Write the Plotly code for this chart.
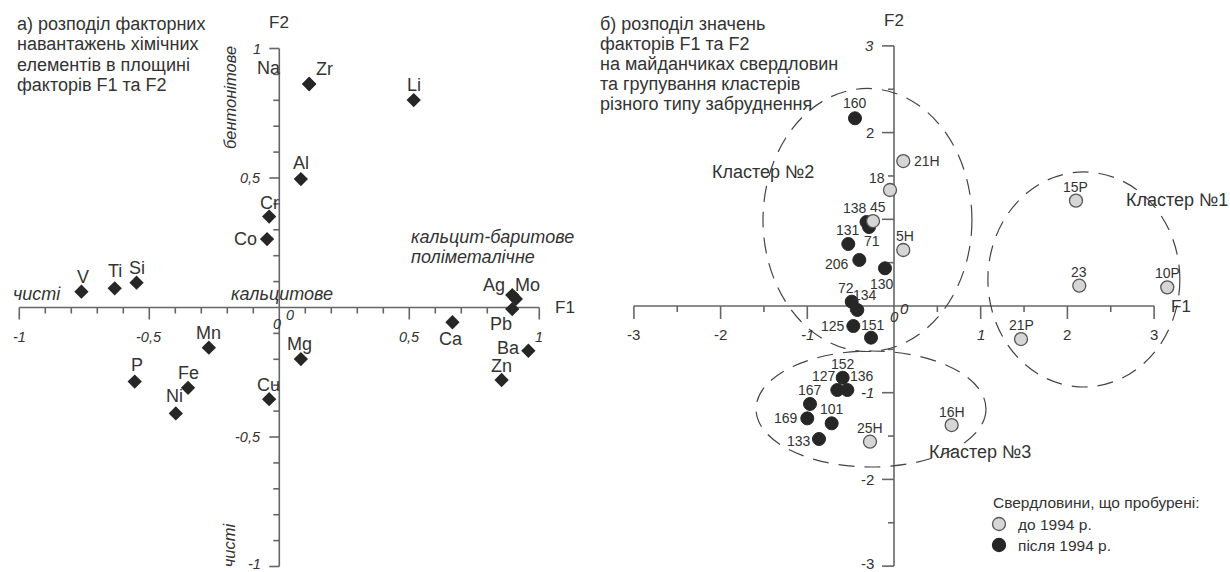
import plotly.graph_objects as go

# ---------------- DATA ----------------
# Panel a: factor loadings of chemical elements
elem_names = ["V", "Ti", "Si", "Mn", "P", "Fe", "Ni", "Cu", "Cr", "Co", "Mg", "Al",
              "Na", "Zr", "Li", "Ca", "Ag", "Mo", "Pb", "Ba", "Zn"]
elem_f1 = [-0.761, -0.633, -0.549, -0.271, -0.556, -0.351, -0.398, -0.039, -0.039, -0.047,
           0.083, 0.083, 0.115, 0.115, 0.517, 0.666, 0.896, 0.910, 0.896, 0.958, 0.855]
elem_f2 = [0.061, 0.074, 0.096, -0.155, -0.286, -0.310, -0.409, -0.354, 0.351, 0.264,
           -0.199, 0.496, 0.863, 0.863, 0.801, -0.057, 0.048, 0.033, -0.006, -0.167, -0.280]

# Panel b: factor scores of wells
before_names = ["21H", "18", "45", "5H", "15P", "23", "10P", "21P", "16H", "25H"]
before_f1 = [0.107, -0.046, -0.242, 0.107, 2.099, 2.137, 3.152, 1.465, 0.665, -0.277]
before_f2 = [1.672, 1.338, 0.980, 0.646, 1.215, 0.234, 0.215, -0.381, -1.373, -1.565]

after_names = ["160", "138", "71", "131", "206", "130", "72", "134", "125", "151",
               "152", "127", "136", "167", "169", "101", "133"]
after_f1 = [-0.450, -0.317, -0.288, -0.527, -0.400, -0.104, -0.488, -0.423, -0.469, -0.265,
            -0.592, -0.654, -0.538, -0.969, -1.000, -0.719, -0.865]
after_f2 = [2.165, 0.969, 0.911, 0.715, 0.531, 0.435, 0.050, -0.046, -0.231, -0.365,
            -0.827, -0.969, -0.969, -1.130, -1.296, -1.353, -1.534]

# Clusters (centre F1, centre F2, half-width, half-height)
cluster_names = ["Кластер №1", "Кластер №2", "Кластер №3"]
cluster_cx = [2.19, -0.306, -0.265]
cluster_cy = [0.306, 0.992, -1.188]
cluster_rx = [1.107, 1.205, 1.326]
cluster_ry = [1.24, 1.517, 0.669]

# Tick labels
a_xticks = [-1, -0.5, 0.5, 1]
a_xticklabels = ["-1", "-0,5", "0,5", "1"]
a_yticks = [1, 0.5, -0.5, -1]
a_yticklabels = ["1", "0,5", "-0,5", "-1"]
b_xticks = [-3, -2, -1, 1, 2, 3]
b_xticklabels = ["-3", "-2", "<i>-1</i>", "<i>1</i>", "2", "3"]
b_yticks = [3, 2, -1, -2, -3]
b_yticklabels = ["<i>3</i>", "2", "<i>-1</i>", "-2", "-3"]

title_a = ["а) розподіл факторних", "навантажень хімічних", "елементів в площині",
           "факторів F1 та F2"]
title_b = ["б) розподіл значень", "факторів F1 та F2", "на майданчиках свердловин",
           "та групування кластерів", "різного типу забруднення"]
legend_title = "Свердловини, що пробурені:"
legend_labels = ["до 1994 р.", "після 1994 р."]

# ---------------- STYLE / LAYOUT ----------------
W, H = 1230, 572
FONT = "Arial, Liberation Sans, sans-serif"
TXT = "#333333"
AX = "#666666"

# pixel scales (px per unit)
AXS, AYS = 260.0, 259.0
BXS, BYS = 86.7, 86.7
a_xr = [-1.0742, -1.0742 + 615 / AXS]
a_yr = [-(572 - 307.5) / AYS, 307.5 / AYS]
b_xr = [-(894 - 615) / BXS, (1230 - 894) / BXS]
b_yr = [-(572 - 306) / BYS, 306 / BYS]

# label offsets (px) : (dx, dy) dy positive = up
elem_off = {"V": (2, 15), "Ti": (0, 17), "Si": (0, 15), "Mn": (0, 15), "P": (2, 17),
            "Fe": (0, 15), "Ni": (-1, 17), "Cu": (-1, 14), "Cr": (0, 14), "Co": (-22, 0),
            "Mg": (-1, 15), "Al": (0, 16), "Na": (-40, 16), "Zr": (15, 15), "Li": (0, 15),
            "Ca": (-1, -17), "Ag": (-18, 10), "Mo": (12, 14), "Pb": (-11, -15),
            "Ba": (-20, 3), "Zn": (0, 14)}
well_off = {"160": (0, 15), "21H": (22, 0), "18": (-13, 12), "138": (-12, 14), "45": (5, 14),
            "131": (0, 14), "71": (3, -14), "5H": (2, 14), "206": (-22, -4), "130": (-3, -16),
            "72": (-6, 14), "134": (8, 15), "125": (-20, 0), "151": (2, 13), "152": (0, 14),
            "127": (-13, 14), "136": (15, 14), "167": (0, 14), "169": (-21, 0), "101": (0, 14),
            "133": (-20, -2), "25H": (0, 14), "16H": (0, 13), "15P": (0, 14), "23": (0, 14),
            "10P": (0, 14), "21P": (0, 14)}

fig = go.Figure()

# Panel a points
fig.add_trace(go.Scatter(x=elem_f1, y=elem_f2, mode="markers", xaxis="x", yaxis="y",
                         marker=dict(symbol="diamond", size=11, color="#262626"),
                         hoverinfo="text", text=elem_names))
# Panel b points
fig.add_trace(go.Scatter(x=after_f1, y=after_f2, mode="markers", xaxis="x2", yaxis="y2",
                         marker=dict(symbol="circle", size=13, color="#262626",
                                     line=dict(color="#262626", width=1)),
                         hoverinfo="text", text=after_names))
fig.add_trace(go.Scatter(x=before_f1, y=before_f2, mode="markers", xaxis="x2", yaxis="y2",
                         marker=dict(symbol="circle", size=13, color="#d6d6d6",
                                     line=dict(color="#555555", width=1.3)),
                         hoverinfo="text", text=before_names))

shapes = []
ann = []


def line(xref, yref, x0, y0, x1, y1, w=1.6, color=AX):
    shapes.append(dict(type="line", xref=xref, yref=yref, x0=x0, y0=y0, x1=x1, y1=y1,
                       line=dict(color=color, width=w), layer="below"))


def text(xref, yref, x, y, s, size=14, dx=0, dy=0, xa="center", ya="middle", angle=0,
         italic=False, color=TXT):
    if italic:
        s = "<i>" + s + "</i>"
    ann.append(dict(xref=xref, yref=yref, x=x, y=y, text=s, showarrow=False,
                    xshift=dx, yshift=dy, xanchor=xa, yanchor=ya, textangle=angle,
                    font=dict(family=FONT, size=size, color=color), align="left"))


def ptext(px, py, s, **kw):
    text("paper", "paper", px / W, 1 - py / H, s, **kw)


# ---- Panel a axes ----
line("x", "y", -1, 0, 1, 0)
line("x", "y", 0, -1, 0, 1)
for i in range(-10, 11):
    if i == 0:
        continue
    v = i / 10
    major = (i % 5 == 0)
    line("x", "y", v, 0, v, -(12 if major else 6) / AYS)
    line("x", "y", 0, v, -(10 if major else 6) / AXS, v)
for v, s in zip(a_xticks, a_xticklabels):
    text("x", "y", v, 0, s, size=14.5, dy=-29, italic=True)
for v, s in zip(a_yticks, a_yticklabels):
    text("x", "y", 0, v, s, size=14.5, dx=-16, dy=(3 if v == -1 else 0), xa="right",
         italic=True)
text("x", "y", 0, 0, "0", size=14.5, dx=11, dy=-7, italic=True)
text("x", "y", 0, 0, "0", size=14.5, dx=-2, dy=-16, italic=True)
text("x", "y", 1, 0, "F1", size=17, dx=26)
text("x", "y", 0, 1, "F2", size=17, dy=26)

for n, x, y in zip(elem_names, elem_f1, elem_f2):
    dx, dy = elem_off[n]
    text("x", "y", x, y, n, size=18, dx=dx, dy=dy)

# descriptive italic labels (panel a)
text("x", "y", -0.93, 0, "чисті", size=18, dy=14, italic=True)
text("x", "y", 0.01, 0, "кальцитове", size=18, dy=14, italic=True)
text("x", "y", 0.5, 0, "кальцит-баритове", size=18, dy=71, xa="left", italic=True)
text("x", "y", 0.5, 0, "поліметалічне", size=18, dy=51, xa="left", italic=True)
text("x", "y", 0, 0.81, "бентонітове", size=16.5, dx=-50, angle=-90, italic=True)
text("x", "y", 0, -0.917, "чисті", size=16.5, dx=-50, angle=-90, italic=True)

# ---- Panel b axes ----
line("x2", "y2", -3, 0, 3, 0)
line("x2", "y2", 0, -3, 0, 3)
for i in range(-6, 7):
    if i == 0:
        continue
    v = i / 2
    major = (i % 2 == 0)
    line("x2", "y2", v, 0, v, -(13 if major else 6) / BYS)
    line("x2", "y2", 0, v, -(12 if major else 6) / BXS, v)
for v, s in zip(b_xticks, b_xticklabels):
    text("x2", "y2", v, 0, s, size=15, dy=-28)
for v, s in zip(b_yticks, b_yticklabels):
    text("x2", "y2", 0, v, s, size=15, dx=-18, dy=(3 if v == -3 else 0), xa="right")
text("x2", "y2", 0, 0, "0", size=15, dx=10, dy=-2, italic=True)
text("x2", "y2", 0, 0, "0", size=15, dx=0, dy=-10, italic=True)
text("x2", "y2", 3, 0, "F1", size=17, dx=27)
text("x2", "y2", 0, 3, "F2", size=17, dy=25)

# cluster ellipses
for cx, cy, rx, ry in zip(cluster_cx, cluster_cy, cluster_rx, cluster_ry):
    shapes.append(dict(type="circle", xref="x2", yref="y2", x0=cx - rx, x1=cx + rx,
                       y0=cy - ry, y1=cy + ry, line=dict(color="#444444", width=1.2,
                                                         dash="16px,10px"),
                       layer="below"))
cluster_lab_pos = [(1177, 200), (763, 172), (980, 452)]
for n, (px, py) in zip(cluster_names, cluster_lab_pos):
    ptext(px, py, n, size=18)

for n, x, y in zip(after_names + before_names, after_f1 + before_f1, after_f2 + before_f2):
    dx, dy = well_off[n]
    xa = "left" if n == "21H" else "center"
    text("x2", "y2", x, y, n, size=14, dx=(9 if n == "21H" else dx), dy=dy, xa=xa)

# titles (one annotation per line, 20 px spacing)
for i, s in enumerate(title_a):
    ptext(15, 24 + 20.3 * i, s, size=18, xa="left")
for i, s in enumerate(title_b):
    ptext(598, 24 + 20 * i, s, size=18, xa="left")

# legend (manual)
ptext(991, 502, legend_title, size=15.5, xa="left")
r = 6.5
leg_styles = [("#d6d6d6", "#555555"), ("#262626", "#262626")]
for i, (lab, (fill, lc)) in enumerate(zip(legend_labels, leg_styles)):
    py = 524 + 21 * i
    ptext(1016, py, lab, size=15.5, xa="left")
    shapes.append(dict(type="circle", xref="paper", yref="paper",
                       x0=(999 - r) / W, x1=(999 + r) / W, y0=1 - (py + r) / H,
                       y1=1 - (py - r) / H, fillcolor=fill, line=dict(color=lc, width=1.3)))

ax_common = dict(visible=False, showgrid=False, zeroline=False, fixedrange=True)
fig.update_layout(
    width=W, height=H, margin=dict(l=0, r=0, t=0, b=0),
    paper_bgcolor="white", plot_bgcolor="rgba(0,0,0,0)", showlegend=False,
    hovermode=False,
    xaxis=dict(domain=[0, 0.5], range=a_xr, **ax_common),
    yaxis=dict(domain=[0, 1], range=a_yr, anchor="x", **ax_common),
    xaxis2=dict(domain=[0.5, 1], range=b_xr, anchor="y2", **ax_common),
    yaxis2=dict(domain=[0, 1], range=b_yr, anchor="x2", **ax_common),
    shapes=shapes, annotations=ann,
)

fig.write_html("out.html", config={"displayModeBar": False},
               post_script="document.body.style.margin='0px';"
               "document.body.style.overflow='hidden';")
